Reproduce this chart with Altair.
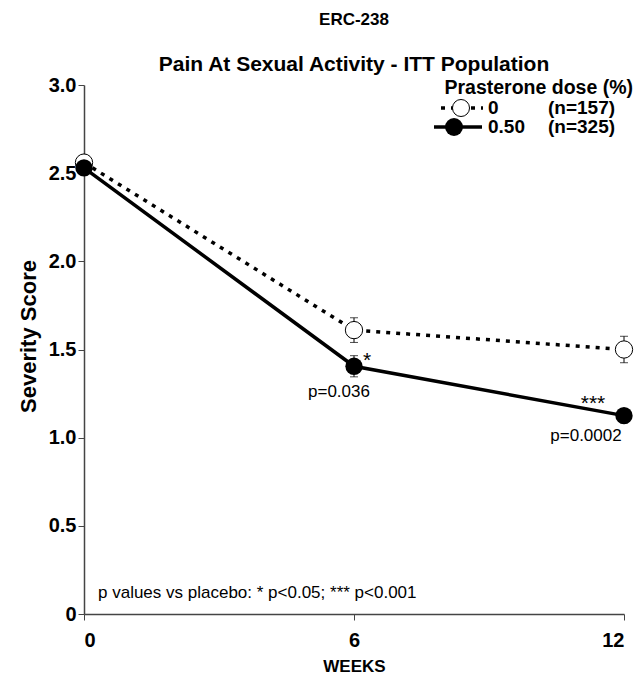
import altair as alt
import pandas as pd

weeks = [0, 6, 12]
placebo = [2.56, 1.61, 1.50]
placebo_err = [0.03, 0.07, 0.075]
dhea = [2.53, 1.405, 1.125]
dhea_err = [0.03, 0.06, 0.04]
x_ticks = [0, 6, 12]
y_ticks = [0, 0.5, 1.0, 1.5, 2.0, 2.5, 3.0]

FONT = "Liberation Sans"

pl = pd.DataFrame({"week": weeks, "score": placebo,
                   "lo": [v - e for v, e in zip(placebo, placebo_err)],
                   "hi": [v + e for v, e in zip(placebo, placebo_err)]})
dh = pd.DataFrame({"week": weeks, "score": dhea,
                   "lo": [v - e for v, e in zip(dhea, dhea_err)],
                   "hi": [v + e for v, e in zip(dhea, dhea_err)]})

xs = alt.Scale(domain=[0, 12], nice=False, zero=False)
ys = alt.Scale(domain=[0, 3], nice=False)

X = alt.X("week:Q", scale=xs, axis=alt.Axis(
    values=x_ticks, title="WEEKS", format="d", grid=False,
    labelFont=FONT, labelFontWeight="bold", labelFontSize=20, labelColor="black",
    labelPadding=10, tickSize=6, tickColor="#444", domainColor="#444", domainWidth=1.5,
    titleFont=FONT, titleFontWeight="bold", titleFontSize=17, titleColor="black",
    titlePadding=8))
Y = alt.Y("score:Q", scale=ys, axis=alt.Axis(
    values=y_ticks, title="Severity Score", grid=False,
    labelExpr="datum.value == 0 ? '0' : format(datum.value, '.1f')",
    labelFont=FONT, labelFontWeight="bold", labelFontSize=20, labelColor="black",
    labelPadding=2, tickSize=6, tickColor="#444", domainColor="#444", domainWidth=1.5,
    titleFont=FONT, titleFontWeight="bold", titleFontSize=22, titleColor="black",
    titlePadding=8, titleY=251))


def series(df, dash, filled):
    base = alt.Chart(df)
    line = base.mark_line(color="black", strokeWidth=3.5,
                          **({"strokeDash": dash} if dash else {})).encode(x=X, y=Y)
    err = base.mark_rule(color="black", strokeWidth=1).encode(
        x=alt.X("week:Q", scale=xs), y=alt.Y("lo:Q", scale=ys), y2="hi:Q")
    cap_lo = base.mark_tick(color="black", thickness=1, size=8, orient="horizontal").encode(
        x=alt.X("week:Q", scale=xs), y=alt.Y("lo:Q", scale=ys))
    cap_hi = base.mark_tick(color="black", thickness=1, size=8, orient="horizontal").encode(
        x=alt.X("week:Q", scale=xs), y=alt.Y("hi:Q", scale=ys))
    if filled:
        pts = base.mark_point(shape="circle", filled=True, color="black", size=300,
                              opacity=1).encode(x=alt.X("week:Q", scale=xs), y=alt.Y("score:Q", scale=ys))
    else:
        pts = base.mark_point(shape="circle", filled=False, fill="white", stroke="black",
                              strokeWidth=1, size=300, opacity=1, fillOpacity=1).encode(
            x=alt.X("week:Q", scale=xs), y=alt.Y("score:Q", scale=ys))
    return line, err, cap_lo, cap_hi, pts


pl_layers = series(pl, [4, 6], False)
dh_layers = series(dh, None, True)

# annotations attached to data points
ann = pd.DataFrame({"week": [6, 6, 12, 12],
                    "score": [dhea[1], dhea[1], dhea[2], dhea[2]],
                    "label": ["*", "p=0.036", "***", "p=0.0002"]})
star6 = alt.Chart(ann.iloc[[0]]).mark_text(font=FONT, fontSize=21, dx=13, dy=-5, color="black").encode(
    x=alt.X("week:Q", scale=xs), y=alt.Y("score:Q", scale=ys), text="label:N")
p6 = alt.Chart(ann.iloc[[1]]).mark_text(font=FONT, fontSize=17, dx=-15, dy=26, color="black").encode(
    x=alt.X("week:Q", scale=xs), y=alt.Y("score:Q", scale=ys), text="label:N")
star12 = alt.Chart(ann.iloc[[2]]).mark_text(font=FONT, fontSize=21, dx=-31, dy=-12, color="black").encode(
    x=alt.X("week:Q", scale=xs), y=alt.Y("score:Q", scale=ys), text="label:N")
p12 = alt.Chart(ann.iloc[[3]]).mark_text(font=FONT, fontSize=17, dx=-38, dy=20, color="black").encode(
    x=alt.X("week:Q", scale=xs), y=alt.Y("score:Q", scale=ys), text="label:N")

dummy = pd.DataFrame({"a": [0]})
foot = alt.Chart(dummy).mark_text(font=FONT, fontSize=17, align="left", baseline="middle",
                                  color="black", text="p values vs placebo: * p<0.05; *** p<0.001").encode(
    x=alt.value(14), y=alt.value(508))

# legend (manual)
leg_title = alt.Chart(dummy).mark_text(font=FONT, fontSize=19.5, fontWeight="bold", align="right",
                                       baseline="middle", color="black", text="Prasterone dose (%)").encode(
    x=alt.value(549), y=alt.value(3))
leg_l1 = alt.Chart(dummy).mark_rule(color="black", strokeWidth=3.5, strokeDash=[4, 6]).encode(
    x=alt.value(357), x2=alt.value(399), y=alt.value(23))
leg_p1 = alt.Chart(dummy).mark_point(shape="circle", filled=False, fill="white", stroke="black",
                                     strokeWidth=1, size=290, opacity=1, fillOpacity=1).encode(
    x=alt.value(377), y=alt.value(23))
leg_t1a = alt.Chart(dummy).mark_text(font=FONT, fontSize=19, fontWeight="bold", align="left",
                                     baseline="middle", color="black", text="0").encode(
    x=alt.value(404), y=alt.value(23))
leg_t1b = alt.Chart(dummy).mark_text(font=FONT, fontSize=19, fontWeight="bold", align="left",
                                     baseline="middle", color="black", text="(n=157)").encode(
    x=alt.value(464), y=alt.value(23))
leg_l2 = alt.Chart(dummy).mark_rule(color="black", strokeWidth=3.5).encode(
    x=alt.value(350), x2=alt.value(398), y=alt.value(42))
leg_p2 = alt.Chart(dummy).mark_point(shape="circle", filled=True, color="black", size=320,
                                     opacity=1).encode(x=alt.value(370), y=alt.value(42))
leg_t2a = alt.Chart(dummy).mark_text(font=FONT, fontSize=19, fontWeight="bold", align="left",
                                     baseline="middle", color="black", text="0.50").encode(
    x=alt.value(404), y=alt.value(42))
leg_t2b = alt.Chart(dummy).mark_text(font=FONT, fontSize=19, fontWeight="bold", align="left",
                                     baseline="middle", color="black", text="(n=325)").encode(
    x=alt.value(464), y=alt.value(42))

chart = alt.layer(
    pl_layers[0], dh_layers[0],
    pl_layers[1], pl_layers[2], pl_layers[3],
    dh_layers[1], dh_layers[2], dh_layers[3],
    pl_layers[4], dh_layers[4],
    star6, p6, star12, p12, foot,
    leg_title, leg_l1, leg_p1, leg_t1a, leg_t1b, leg_l2, leg_p2, leg_t2a, leg_t2b,
).properties(
    width=540, height=529,
    title=alt.TitleParams(
        text="ERC-238", subtitle="Pain At Sexual Activity - ITT Population",
        font=FONT, fontSize=17, fontWeight="bold", color="black",
        subtitleFont=FONT, subtitleFontSize=21, subtitleFontWeight="bold", subtitleColor="black",
        subtitlePadding=25, anchor="middle", offset=4, dy=5),
    autosize=alt.AutoSizeParams(type="none"),
    padding={"left": 76, "top": 77, "right": 10, "bottom": 60},
).configure_view(stroke=None)

chart.save("out.html", embed_options={"renderer": "svg", "actions": False})
